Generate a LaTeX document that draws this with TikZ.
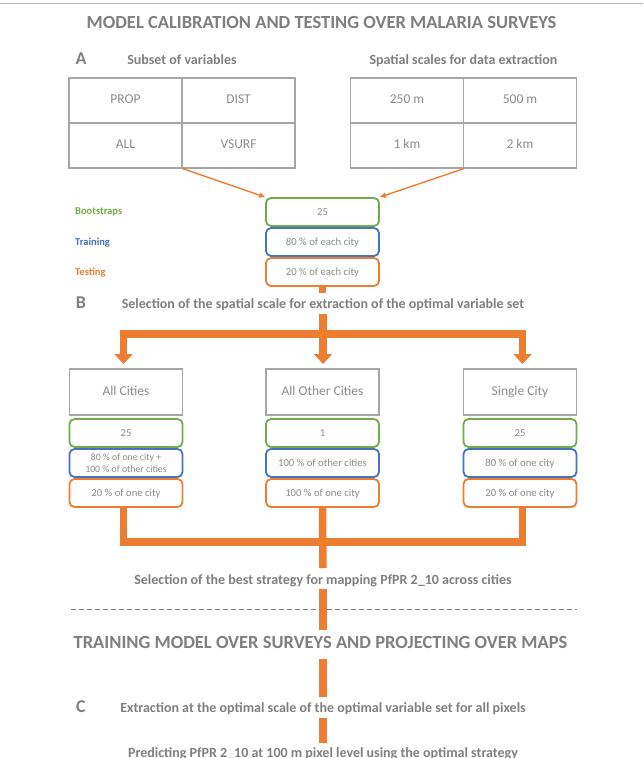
\documentclass[tikz,border=0pt]{standalone}
\usepackage{fontspec}
\setmainfont{Carlito}
\usetikzlibrary{arrows.meta,calc}
\definecolor{ogreen}{HTML}{70AD47}
\definecolor{oblue}{HTML}{4472C4}
\definecolor{oorange}{HTML}{ED7D31}
\definecolor{hgray}{HTML}{7F7F7F}
\definecolor{tgray}{HTML}{8C8C8C}
\definecolor{bgray}{HTML}{A6A6A6}
\begin{document}
\begin{tikzpicture}[x=1pt,y={(0pt,-1pt)},
  txt/.style={inner sep=0pt, text height=0.64em, text depth=0pt},
  heading/.style={txt, font=\fontsize{18.5}{20}\selectfont\bfseries, text=hgray},
  sub/.style={txt, font=\fontsize{14}{16}\selectfont\bfseries, text=hgray},
  letter/.style={txt, font=\fontsize{18}{20}\selectfont\bfseries, text=hgray},
  lab/.style={txt, anchor=west, font=\fontsize{10.5}{12}\selectfont\bfseries},
  cell/.style={draw=bgray, line width=1.1pt, minimum width=113pt, minimum height=45pt,
    inner sep=0pt, text=tgray, font=\fontsize{13.5}{15}\selectfont, text height=0.64em, text depth=0pt},
  sbox/.style={rounded corners=5pt, line width=1.8pt, minimum width=113pt, minimum height=28pt,
    inner sep=0pt, text=tgray, font=\fontsize{10.7}{12}\selectfont, text height=0.64em, text depth=0pt},
  gbox/.style={sbox, draw=ogreen},
  bbox/.style={sbox, draw=oblue},
  obox/.style={sbox, draw=oorange},
  thin arrow/.style={draw=oorange, line width=1.4pt, -{Triangle[length=6pt,width=5pt]}},
  flow/.style={draw=oorange, line width=7.5pt},
  bigarrow/.style={flow, -{Triangle[length=10pt,width=18pt]}, shorten >=5pt},
  sepline/.style={draw=hgray, line width=1.3pt, dash pattern=on 5pt off 3pt}
]
\clip (0,0) rectangle (643,758);
\fill[white] (0,0) rectangle (643,758);
\draw[draw=bgray!80, line width=1pt] (0,3.5) -- (643,3.5);

% Titles
\node[heading] (title1) at (321.5,25) {MODEL CALIBRATION AND TESTING OVER MALARIA SURVEYS};
\node[letter] (lA) at (81,61) {A};
\node[sub] (hSub) at (182,61) {Subset of variables};
\node[sub] (hSca) at (463.5,61) {Spatial scales for data extraction};

% Tables
\node[cell] (prop) at (125.5,100.5) {PROP};
\node[cell] (dist) at (238.5,100.5) {DIST};
\node[cell] (all)  at (125.5,145.5) {ALL};
\node[cell] (vsurf) at (238.5,145.5) {VSURF};
\node[cell] (m250) at (407,100.5) {250 m};
\node[cell] (m500) at (520,100.5) {500 m};
\node[cell] (km1) at (407,145.5) {1 km};
\node[cell] (km2) at (520,145.5) {2 km};

% Stack A
\node[gbox] (boot0) at (322.5,212) {25};
\node[bbox] (train0) at (322.5,242) {80 \% of each city};
\node[obox] (test0) at (322.5,272) {20 \% of each city};
\node[lab, text=ogreen] (lboot) at (75,211) {Bootstraps};
\node[lab, text=oblue] (ltrain) at (75,242) {Training};
\node[lab, text=oorange] (ltest) at (75,272) {Testing};

\draw[thin arrow] (all.south east) -- (boot0.north west);
\draw[thin arrow] (km1.south east) -- (boot0.north east);

% B
\node[letter] (lB) at (81,305) {B};
\node[sub] (selB) at (323,305) {Selection of the spatial scale for extraction of the optimal variable set};

\coordinate (s1) at (322.5,293);
\coordinate (br1) at (323,314);
\coordinate (barC) at (323,334);
\coordinate (aL) at (123.5,369);
\coordinate (aC) at (323,369);
\coordinate (aR) at (522.5,369);
\draw[flow] (test0.south) -- (s1);
\draw[bigarrow] (barC) -| (aL);
\draw[bigarrow] (barC) -| (aR);
\draw[bigarrow] (br1) -- (aC);

% Strategy boxes
\node[cell, minimum height=46pt] (sc1) at (126,392) {All Cities};
\node[cell, minimum height=46pt] (sc2) at (322.5,392) {All Other Cities};
\node[cell, minimum height=46pt] (sc3) at (520,392) {Single City};

\node[gbox] (g1) at (126,433) {25};
\node[gbox] (g2) at (322.5,433) {1};
\node[gbox] (g3) at (520,433) {25};
\node[bbox, text height=, text depth=, align=center, font=\fontsize{9.8}{12}\selectfont] (b1) at (126,463) {80 \% of one city +\\100 \% of other cities};
\node[bbox] (b2) at (322.5,463) {100 \% of other cities};
\node[bbox] (b3) at (520,463) {80 \% of one city};
\node[obox] (o1) at (126,493) {20 \% of one city};
\node[obox] (o2) at (322.5,493) {100 \% of one city};
\node[obox] (o3) at (520,493) {20 \% of one city};

\coordinate (L3) at (123.5,507);
\coordinate (R3) at (522.5,507);
\coordinate (cB) at (323,542);
\coordinate (e1) at (323,568);
\draw[flow] (L3) |- (cB) -| (R3);
\draw[flow] (o2.south) -- (e1);

\node[sub] (selBest) at (323,581) {Selection of the best strategy for mapping PfPR 2\_10 across cities};

\draw[sepline] (71,609.5) coordinate (dl) -- (577,609.5) coordinate (dr);
\coordinate (f1) at (323,589);
\coordinate (f2) at (323,630);
\draw[flow] (f1) -- (f2);

\node[heading] (title2) at (320.5,645) {TRAINING MODEL OVER SURVEYS AND PROJECTING OVER MAPS};
\coordinate (g1c) at (323,659);
\coordinate (g2c) at (323,697);
\draw[flow] (g1c) -- (g2c);

\node[letter] (lC) at (81,709) {C};
\node[sub] (extr) at (323,709) {Extraction at the optimal scale of the optimal variable set for all pixels};
\coordinate (h1) at (323,718);
\coordinate (h2) at (323,743);
\draw[flow] (h1) -- (h2);

\node[sub] (pred) at (323,754.5) {Predicting PfPR 2\_10 at 100 m pixel level using the optimal strategy};
\end{tikzpicture}
\end{document}
